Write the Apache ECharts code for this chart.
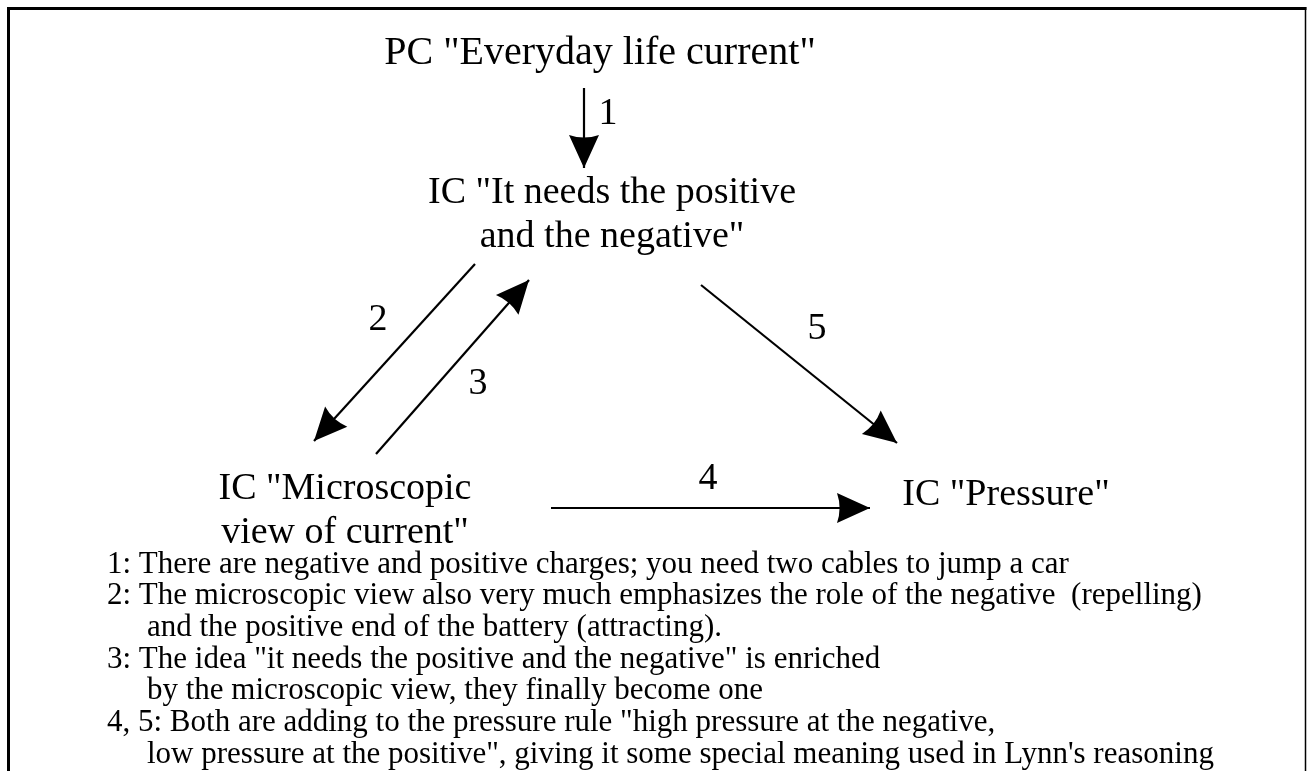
<!DOCTYPE html>
<html>
<head>
<meta charset="utf-8">
<style>
  html, body { margin: 0; padding: 0; background: #fff; }
  #main { width: 1307px; height: 771px; }
</style>
<script src="https://cdn.jsdelivr.net/npm/echarts@6/dist/echarts.min.js"></script>
</head>
<body>
<div id="main"></div>
<script>
// concept boxes (text, anchor in diagram units)
const nodeText = [
  'PC "Everyday life current"',
  'IC "It needs the positive\nand the negative"',
  'IC "Microscopic\nview of current"',
  'IC "Pressure"'
];
const nodePos = [[600, 53], [612, 215], [345, 511], [1006, 495]];

// transitions: start point, arrow tip, number label
const edgeName = ['1', '2', '3', '4', '5'];
const edgeFrom = [[584, 88], [475, 264], [376, 454], [551, 508], [701, 285]];
const edgeTo = [[584, 168], [314, 441], [529, 280], [870, 508], [897, 443]];
const edgeLabelPos = [[608, 114], [378, 320], [478, 384], [708, 479], [817, 329]];

// notes under the diagram, true = continuation line (indented)
const noteText = [
  '1: There are negative and positive charges; you need two cables to jump a car',
  '2: The microscopic view also very much emphasizes the role of the negative  (repelling)',
  'and the positive end of the battery (attracting).',
  '3: The idea "it needs the positive and the negative" is enriched',
  'by the microscopic view, they finally become one',
  '4, 5: Both are adding to the pressure rule "high pressure at the negative,',
  'low pressure at the positive", giving it some special meaning used in Lynn\'s reasoning'
];
const noteIndent = [false, false, true, false, true, false, true];

const FONT = '"Liberation Serif", "Times New Roman", serif';
const W = 1307, H = 771;

// arrowhead with its tip at the symbol centre (leading moveTo pads the box)
const ARROW = 'path://M0,-32M0,0L15,32Q0,27,-15,32Z';

const chart = echarts.init(document.getElementById('main'));

const noteData = noteText.map((t, i) => ({
  value: [noteIndent[i] ? 147 : 107, 575 + i * 31.7 - 10.5],
  name: t
}));

function textSeries(data, fontSize, align, extra) {
  return {
    type: 'scatter',
    silent: true,
    symbolSize: 0,
    itemStyle: { opacity: 1 },
    label: Object.assign({
      show: true, position: 'inside', formatter: '{b}',
      color: '#000', opacity: 1, fontFamily: FONT, fontSize: fontSize,
      align: align, verticalAlign: 'middle'
    }, extra || {}),
    emphasis: { disabled: true },
    data: data
  };
}

chart.setOption({
  animation: false,
  backgroundColor: '#fff',
  grid: { left: 0, right: 0, top: 0, bottom: 0 },
  xAxis: { type: 'value', min: 0, max: W, show: false },
  yAxis: { type: 'value', min: 0, max: H, inverse: true, show: false },
  graphic: [
    { type: 'line', shape: { x1: 7, y1: 8.5, x2: 1306.5, y2: 8.5 }, style: { stroke: '#000', lineWidth: 3 } },
    { type: 'line', shape: { x1: 8.5, y1: 7, x2: 8.5, y2: H }, style: { stroke: '#000', lineWidth: 3 } },
    { type: 'line', shape: { x1: 1305.5, y1: 7, x2: 1305.5, y2: H }, style: { stroke: '#000', lineWidth: 1.5 } }
  ],
  series: [
    {
      type: 'lines',
      coordinateSystem: 'cartesian2d',
      silent: true,
      symbol: ['none', ARROW],
      symbolSize: [1, [30, 66]],
      lineStyle: { color: '#000', width: 2.2, opacity: 1, curveness: 0 },
      data: edgeFrom.map((p, i) => ({ coords: [p, edgeTo[i]] }))
    },
    textSeries(nodeText.map((t, i) => ({
      name: t, value: nodePos[i],
      label: i === 0 ? { fontSize: 40 } : undefined
    })), 38, 'center', { lineHeight: 44 }),
    textSeries(edgeName.map((t, i) => ({ name: t, value: edgeLabelPos[i] })), 38, 'center'),
    textSeries(noteData, 31, 'left')
  ]
});
</script>
</body>
</html>
